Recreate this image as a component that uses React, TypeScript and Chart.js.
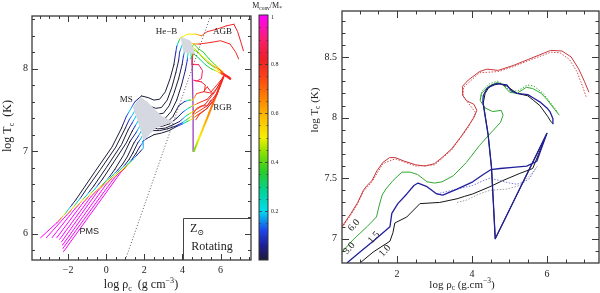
import React, { useEffect, useRef } from 'react';
import { Chart, registerables } from 'chart.js';
Chart.register(...registerables);

const SERIF = "'Liberation Serif', 'DejaVu Serif', serif";
const SANS = "'Liberation Sans', 'DejaVu Sans', sans-serif";

// ---------- tick values ----------
const LEFT_X_MAJOR = [-2, 0, 2, 4, 6];
const LEFT_X_MINOR = [-3.5, -3, -2.5, -1.5, -1, -0.5, 0.5, 1, 1.5, 2.5, 3, 3.5, 4.5, 5, 5.5, 6.5, 7, 7.5];
const LEFT_Y_MAJOR = [6, 7, 8];
const LEFT_Y_MINOR = [5.8, 6.2, 6.4, 6.6, 6.8, 7.2, 7.4, 7.6, 7.8, 8.2, 8.4, 8.6];
const RIGHT_X_MAJOR = [2, 4, 6];
const RIGHT_X_MINOR = [1, 1.5, 2.5, 3, 3.5, 4.5, 5, 5.5, 6.5, 7];
const RIGHT_Y_MAJOR = [7, 7.5, 8, 8.5];
const RIGHT_Y_MINOR = [6.9, 7.1, 7.2, 7.3, 7.4, 7.6, 7.7, 7.8, 7.9, 8.1, 8.2, 8.3, 8.4, 8.6, 8.7, 8.8];
const CBAR_LABELS = [0.2, 0.4, 0.6, 0.8, 1];

// ---------- left panel: tracks [log rho, log T, Mconv/M*] ----------
const track0 = [[-3.45,5.95,1],[-2.6,6.13,1],[-2.4,6.18,0.72],[-2.2,6.23,0.48],[-2.0,6.29,0.25],[-1.8,6.35,0.08],[-1.6,6.41,0],[-0.6,6.75,0],[0.3,7.05,0],[0.8,7.28,0],[1.05,7.42,0.1],[1.25,7.5,0.2],[1.5,7.6,0.08],[1.85,7.67,0],[2.2,7.65,0],[2.5,7.62,0],[2.8,7.63,0],[3.1,7.72,0],[3.35,7.88,0],[3.55,8.05,0],[3.65,8.2,0.08],[3.7,8.27,0.12],[3.8,8.33,0.3],[3.9,8.38,0.5],[4.3,8.42,0.5],[4.7,8.42,0.55],[5.0,8.4,0.7],[5.3,8.45,0.8],[5.8,8.48,0.8],[6.3,8.52,0.8],[6.7,8.54,0.82],[6.9,8.45,0.82],[7.1,8.3,0.82],[7.2,8.22,0.82]];
const track1 = [[-3.15,5.95,1],[-2.1,6.22,1],[-1.9,6.27,0.72],[-1.7,6.33,0.48],[-1.5,6.39,0.25],[-1.3,6.45,0.08],[-1.1,6.52,0],[-0.3,6.78,0],[0.5,7.05,0],[1.0,7.28,0],[1.2,7.38,0.1],[1.4,7.45,0.2],[1.65,7.55,0.08],[1.95,7.6,0],[2.25,7.55,0],[2.6,7.52,0],[2.9,7.53,0],[3.2,7.62,0],[3.45,7.78,0],[3.65,7.95,0],[3.8,8.1,0.03],[3.85,8.2,0.1],[4.0,8.3,0.25],[4.3,8.33,0.45],[4.6,8.3,0.6],[4.9,8.3,0.78],[5.5,8.32,0.8],[6.0,8.34,0.8],[6.5,8.3,0.8],[6.8,8.2,0.8],[6.95,8.12,0.8]];
const track2 = [[-2.85,5.95,1],[-1.65,6.3,1],[-1.45,6.35,0.72],[-1.25,6.41,0.48],[-1.05,6.46,0.25],[-0.85,6.52,0.08],[-0.65,6.58,0],[0.0,6.8,0],[0.8,7.08,0],[1.15,7.26,0],[1.35,7.34,0.1],[1.5,7.4,0.2],[1.75,7.5,0.08],[2.05,7.54,0],[2.35,7.48,0],[2.7,7.45,0],[3.0,7.46,0],[3.3,7.55,0],[3.55,7.7,0],[3.8,7.88,0],[3.98,8.05,0.03],[4.05,8.15,0.1],[4.15,8.25,0.25],[4.4,8.28,0.45],[4.55,8.2,0.75],[4.5,8.05,0.85],[4.85,8.05,0.88],[5.05,7.98,0.88],[5.0,7.88,0.88],[4.75,7.85,0.88],[4.6,7.86,0.88],[5.0,7.84,0.82],[5.2,7.8,0.8],[5.15,7.72,0.8],[5.4,7.71,0.8],[5.65,7.7,0.8]];
const track3 = [[-2.6,5.95,1],[-1.2,6.38,1],[-1.0,6.43,0.72],[-0.8,6.49,0.48],[-0.6,6.54,0.25],[-0.4,6.6,0.08],[-0.2,6.66,0],[0.4,6.87,0],[1.05,7.1,0],[1.35,7.24,0],[1.5,7.3,0.1],[1.6,7.34,0.2],[1.85,7.44,0.08],[2.15,7.48,0],[2.45,7.42,0],[2.8,7.38,0],[3.1,7.4,0],[3.4,7.48,0],[3.7,7.62,0],[3.95,7.8,0.02],[4.15,7.98,0.05],[4.25,8.1,0.1],[4.3,8.2,0.3],[4.5,8.24,0.4],[4.8,8.2,0.45],[5.2,8.12,0.5],[5.6,8.04,0.6],[5.9,8.0,0.7],[6.1,7.96,0.8]];
const track4 = [[-2.45,5.93,1],[-0.8,6.45,1],[-0.55,6.51,0.72],[-0.3,6.57,0.48],[-0.05,6.63,0.25],[0.2,6.7,0.08],[0.45,6.78,0],[0.9,6.95,0],[1.25,7.12,0],[1.55,7.22,0.1],[1.7,7.28,0.2],[1.95,7.38,0.08],[2.25,7.42,0],[2.55,7.37,0],[2.9,7.33,0],[3.2,7.35,0],[3.5,7.42,0],[3.8,7.55,0.02],[4.1,7.6,0.08],[4.35,7.62,0.3],[4.55,7.62,0.55],[4.75,7.7,0.75],[5.1,7.72,0.82],[5.3,7.78,0.82],[5.5,7.72,0.8],[5.8,7.8,0.8],[6.15,7.9,0.8]];
const track5 = [[-2.35,5.9,1],[-0.4,6.53,1],[-0.15,6.59,0.72],[0.1,6.65,0.48],[0.35,6.71,0.25],[0.6,6.77,0.08],[0.85,6.84,0],[1.1,6.93,0],[1.45,7.1,0],[1.65,7.17,0.1],[1.78,7.22,0.2],[2.0,7.32,0.08],[2.3,7.36,0],[2.6,7.32,0],[2.9,7.3,0],[3.3,7.33,0],[3.7,7.4,0.02],[4.0,7.47,0.08],[4.3,7.52,0.25],[4.55,7.55,0.5],[4.8,7.58,0.75],[5.3,7.63,0.82],[5.8,7.76,0.8],[6.15,7.9,0.8]];
const track6 = [[-2.3,5.86,1],[0.0,6.6,1],[0.25,6.66,0.72],[0.5,6.72,0.48],[0.75,6.78,0.25],[1.0,6.84,0.08],[1.2,6.9,0],[1.4,6.98,0],[1.65,7.1,0.05],[1.84,7.16,0.2],[2.05,7.26,0.08],[2.35,7.3,0],[2.7,7.27,0],[3.1,7.28,0],[3.5,7.32,0],[3.85,7.36,0.05],[4.15,7.42,0.2],[4.4,7.46,0.45],[4.7,7.5,0.7],[5.2,7.57,0.8],[5.7,7.72,0.8],[6.15,7.9,0.8]];
const track7 = [[-2.28,5.82,1],[0.4,6.67,1],[0.65,6.73,0.72],[0.9,6.79,0.48],[1.15,6.85,0.25],[1.35,6.9,0.08],[1.55,6.97,0],[1.75,7.05,0.05],[1.9,7.1,0.2],[2.1,7.2,0.08],[2.4,7.25,0],[2.8,7.25,0],[3.2,7.27,0],[3.6,7.3,0.02],[3.95,7.34,0.1],[4.2,7.38,0.3],[4.45,7.42,0.5],[4.75,7.47,0.72],[5.3,7.55,0.8],[5.8,7.7,0.8],[6.15,7.9,0.8]];
const track8 = [[-2.25,5.78,1],[0.75,6.74,1],[1.0,6.8,0.72],[1.2,6.85,0.48],[1.4,6.9,0.25],[1.6,6.95,0.08],[1.8,7.0,0.05],[1.95,7.04,0.2],[1.92,7.12,0.1],[2.1,7.15,0.05],[2.5,7.2,0],[2.9,7.22,0],[3.3,7.25,0],[3.7,7.3,0.05],[4.0,7.33,0.15],[4.25,7.36,0.35],[4.5,7.39,0.55],[4.8,7.44,0.75],[5.3,7.52,0.8],[5.8,7.68,0.8],[6.15,7.9,0.8]];
const flashDiag = [[6.15,7.9,0.8],[5.4,7.46,0.65],[4.6,7.0,0.42]];
const flashVert = [[4.6,7.0],[4.56,7.5],[4.5,8.15]];
const heb1 = [[4.5,8.15,0.3],[4.45,8.25,0.35],[4.6,8.3,0.4],[4.8,8.25,0.38],[5.1,8.2,0.35],[5.4,8.12,0.35],[5.7,8.05,0.4],[5.95,8.0,0.5],[6.15,7.96,0.6]];
const heb2 = [[4.35,8.2,0.45],[4.5,8.27,0.5],[4.75,8.22,0.45],[5.0,8.15,0.4],[5.35,8.07,0.38],[5.65,8.02,0.42],[5.9,7.98,0.55],[6.12,7.95,0.65]];
const heb3 = [[4.4,8.12,0.3],[4.6,8.18,0.35],[4.9,8.12,0.3],[5.2,8.05,0.3],[5.5,8.0,0.35],[5.8,7.97,0.5],[6.1,7.93,0.7]];
const agbEnd = [[6.05,7.95,0.8],[6.25,7.92,0.8],[6.4,7.9,0.8],[6.5,7.88,0.8]];
const rgbLoop1 = [[4.55,7.45,0.8],[4.75,7.52,0.8],[5.0,7.55,0.8],[5.3,7.55,0.8],[5.5,7.62,0.8]];
const rgbLoop2 = [[4.7,7.38,0.78],[4.9,7.45,0.8],[5.2,7.5,0.8],[5.6,7.6,0.8]];
const msBand = [[1.4,7.53],[1.65,7.62],[1.85,7.65],[2.15,7.6],[2.5,7.52],[2.9,7.43],[3.3,7.38],[3.6,7.36],[3.1,7.32],[2.6,7.28],[2.25,7.2],[2.0,7.13],[1.92,7.15],[1.8,7.25],[1.6,7.4]];
const hebBand = [[3.9,8.39],[4.42,8.34],[4.68,8.18],[4.05,8.2]];
const degeneracyLine = [[1.0,5.68],[5.47,8.64]];

// ---------- right panel: tracks [log rho, log T] ----------
const red6 = [[0.53,7.10],[0.75,7.2],[0.95,7.3],[1.1,7.4],[1.2,7.44],[1.33,7.48],[1.46,7.56],[1.62,7.63],[1.8,7.67],[1.95,7.67],[2.2,7.64],[2.5,7.61],[2.75,7.6],[3.0,7.62],[3.2,7.67],[3.45,7.74],[3.7,7.84],[3.9,7.93],[4.05,8.0],[4.13,8.06],[4.05,8.11],[3.85,8.14],[3.74,8.19],[3.75,8.26],[3.9,8.31],[4.2,8.38],[4.4,8.4],[4.7,8.39],[5.1,8.43],[5.5,8.48],[5.9,8.53],[6.1,8.555],[6.4,8.55],[6.65,8.5],[6.85,8.4],[7.0,8.3],[7.12,8.21]];
const red6Dot = [[0.53,7.09],[0.75,7.19],[0.95,7.29],[1.1,7.39],[1.33,7.47],[1.62,7.62],[1.95,7.66],[2.5,7.6],[3.0,7.61],[3.45,7.73],[3.9,7.92],[4.1,8.04],[3.9,8.12],[3.76,8.18],[3.77,8.25],[4.2,8.37],[4.7,8.38],[5.1,8.42],[5.5,8.47],[5.9,8.515],[6.1,8.54],[6.35,8.535],[6.6,8.48],[6.8,8.38],[6.95,8.26],[7.06,8.16]];
const green3 = [[0.53,6.89],[0.82,6.99],[1.2,7.10],[1.45,7.18],[1.52,7.27],[1.6,7.36],[1.7,7.41],[1.89,7.48],[2.13,7.55],[2.35,7.55],[2.55,7.53],[2.8,7.47],[3.0,7.46],[3.2,7.47],[3.5,7.52],[3.85,7.63],[4.2,7.77],[4.55,7.89],[4.76,7.96],[4.83,8.02],[4.78,8.06],[4.55,8.05],[4.35,8.08],[4.22,8.14],[4.25,8.2],[4.45,8.26],[4.68,8.29],[4.83,8.27],[5.0,8.21],[5.2,8.2],[5.45,8.25],[5.62,8.24],[5.85,8.2],[6.0,8.15],[6.2,8.07],[6.33,8.02]];
const green3Dot = [[4.22,8.15],[4.27,8.22],[4.47,8.28],[4.68,8.3],[4.85,8.27],[5.02,8.22],[5.22,8.22],[5.48,8.27],[5.65,8.26],[5.9,8.2],[6.1,8.12],[6.3,8.04]];
const blue15 = [[0.66,6.80],[1.01,6.89],[1.36,6.98],[1.81,7.10],[1.86,7.21],[2.02,7.29],[2.26,7.37],[2.45,7.44],[2.56,7.46],[2.8,7.43],[3.06,7.37],[3.22,7.36],[3.6,7.41],[4.02,7.47],[4.3,7.53],[4.5,7.57],[4.75,7.58],[5.09,7.59],[5.46,7.6],[5.73,7.64],[6.0,7.87],[4.62,7.0],[4.57,7.3],[4.52,7.59],[4.43,7.86],[4.29,8.13],[4.3,8.18],[4.4,8.24],[4.55,8.27],[4.66,8.28],[4.93,8.27],[5.05,8.22],[5.2,8.2],[5.49,8.19],[5.65,8.16],[5.81,8.13],[6.0,8.08],[6.08,8.05],[6.16,7.99],[6.16,7.95]];
const blue15Dot = [[3.06,7.37],[3.6,7.41],[4.02,7.44],[4.3,7.48],[4.48,7.5],[4.74,7.48],[5.0,7.46],[5.2,7.45],[5.4,7.47],[5.54,7.5],[5.7,7.58]];
const black10 = [[1.01,6.80],[1.36,6.89],[1.81,6.98],[1.89,7.05],[1.94,7.13],[2.26,7.18],[2.61,7.29],[3.14,7.30],[3.6,7.33],[3.8,7.35],[4.02,7.37],[4.48,7.43],[4.82,7.48],[5.28,7.54],[5.62,7.58],[6.0,7.87],[4.62,7.0],[4.57,7.3],[4.52,7.59],[4.43,7.86],[4.3,8.12],[4.35,8.2],[4.45,8.25],[4.6,8.27],[4.74,8.28],[4.93,8.26],[5.2,8.2],[5.49,8.18],[5.65,8.14],[5.81,8.1],[6.02,8.01],[6.1,7.97],[6.16,7.95]];
const gray10Dot = [[3.6,7.3],[3.86,7.32],[4.2,7.37],[4.48,7.4],[4.93,7.41],[5.28,7.44],[5.6,7.54],[5.75,7.6]];
const massLabels = ['6.0', '3.0', '1.5', '1.0'];
const massLabelAt = [[0.85,7.11],[0.72,6.92],[1.38,7.01],[1.68,6.9]];

// ---------- colour map ----------
const CMAP: [number, number[]][] = [
  [0.0,[28,28,56]],[0.06,[30,30,150]],[0.12,[30,70,235]],[0.2,[0,220,240]],[0.28,[0,212,150]],
  [0.36,[40,205,40]],[0.44,[140,225,0]],[0.5,[245,240,0]],[0.58,[255,190,0]],[0.66,[255,130,0]],
  [0.74,[255,70,20]],[0.82,[240,30,40]],[0.9,[250,30,110]],[1.0,[255,0,255]]
];
function cmap(m: number): string {
  const v = Math.max(0, Math.min(1, m));
  for (let i = 0; i < CMAP.length - 1; i++) {
    const [a, ca] = CMAP[i];
    const [b, cb] = CMAP[i + 1];
    if (v >= a && v <= b) {
      const t = (v - a) / (b - a);
      const c = ca.map((x, k) => Math.round(x + (cb[k] - x) * t));
      return `rgb(${c[0]},${c[1]},${c[2]})`;
    }
  }
  return 'rgb(255,0,255)';
}

function segColor(ctx: any) {
  const ds = ctx.chart.data.datasets[ctx.datasetIndex];
  const m = ds.mvals;
  const m0 = m[ctx.p0DataIndex];
  const m1 = m[ctx.p1DataIndex];
  if (Math.abs(m1 - m0) < 1e-6) return cmap(m0);
  const g = ctx.chart.ctx.createLinearGradient(ctx.p0.x, ctx.p0.y, ctx.p1.x, ctx.p1.y);
  g.addColorStop(0, cmap(m0));
  for (const [s] of CMAP) {
    const t = (s - m0) / (m1 - m0);
    if (t > 0 && t < 1) g.addColorStop(t, cmap(s));
  }
  g.addColorStop(1, cmap(m1));
  return g;
}

const xy = (pts: number[][]) => pts.map(p => ({ x: p[0], y: p[1] }));

function cmapDs(pts: number[][], width = 1) {
  return {
    data: xy(pts), mvals: pts.map(p => p[2]), showLine: true, pointRadius: 0,
    borderWidth: width, borderColor: '#000', segment: { borderColor: segColor },
    borderJoinStyle: 'round', borderCapStyle: 'round', fill: false,
  };
}
function plainDs(pts: number[][], color: string, width = 1, dash: number[] = []) {
  return {
    data: xy(pts), showLine: true, pointRadius: 0, borderWidth: width, borderColor: color,
    borderDash: dash, borderJoinStyle: 'round', fill: false,
  };
}
function bandDs(pts: number[][], color: string) {
  return {
    data: xy(pts), showLine: true, pointRadius: 0, borderWidth: 1, borderColor: 'rgba(0,0,0,0)',
    backgroundColor: color, fill: 'shape',
  };
}

// ---------- text helpers ----------
type Part = { t: string; s?: 'sub' | 'sup' };
function drawRich(ctx: CanvasRenderingContext2D, parts: Part[], x: number, y: number, size: number, rot = 0, family = SERIF, color = '#222') {
  ctx.save();
  ctx.translate(x, y);
  ctx.rotate(rot);
  ctx.fillStyle = color;
  ctx.textAlign = 'left';
  ctx.textBaseline = 'middle';
  const widths = parts.map(p => {
    ctx.font = `${p.s ? size * 0.68 : size}px ${family}`;
    return ctx.measureText(p.t).width;
  });
  const total = widths.reduce((a, b) => a + b, 0);
  let cx = -total / 2;
  parts.forEach((p, i) => {
    ctx.font = `${p.s ? size * 0.68 : size}px ${family}`;
    const dy = p.s === 'sub' ? size * 0.32 : p.s === 'sup' ? -size * 0.35 : 0;
    ctx.fillText(p.t, cx, dy);
    cx += widths[i];
  });
  ctx.restore();
}

const fmt = (v: number) => (v < 0 ? '\u2212' + Math.abs(v) : String(v));

function framePlugin(xMaj: number[], xMin: number[], yMaj: number[], yMin: number[], majLen: number, extra: (c: any) => void) {
  return {
    id: 'frameTicks',
    afterDatasetsDraw(chart: any) {
      const { ctx, chartArea: a, scales } = chart;
      const xs = scales.x, ys = scales.y;
      ctx.save();
      ctx.strokeStyle = '#3a3a3a';
      ctx.lineWidth = 1;
      ctx.beginPath();
      const tx = (vals: number[], len: number) => vals.forEach(v => {
        const p = Math.round(xs.getPixelForValue(v)) + 0.5;
        ctx.moveTo(p, a.bottom); ctx.lineTo(p, a.bottom - len);
        ctx.moveTo(p, a.top); ctx.lineTo(p, a.top + len);
      });
      const ty = (vals: number[], len: number) => vals.forEach(v => {
        const p = Math.round(ys.getPixelForValue(v)) + 0.5;
        ctx.moveTo(a.left, p); ctx.lineTo(a.left + len, p);
        ctx.moveTo(a.right, p); ctx.lineTo(a.right - len, p);
      });
      tx(xMaj, majLen); tx(xMin, majLen / 2);
      ty(yMaj, majLen); ty(yMin, majLen / 2);
      ctx.stroke();
      ctx.lineWidth = 1.3;
      ctx.strokeRect(a.left, a.top, a.right - a.left, a.bottom - a.top);
      ctx.restore();
      extra(chart);
    },
  };
}

function scalesFor(xMin: number, xMax: number, yMin: number, yMax: number, xMaj: number[], yMaj: number[], yWidth: number, xHeight: number, xPad: number, yPad: number) {
  const tickFont = { family: SERIF, size: 10 };
  return {
    x: {
      type: 'linear', min: xMin, max: xMax,
      grid: { display: false, drawTicks: false }, border: { display: false },
      ticks: { font: tickFont, color: '#222', padding: xPad, autoSkip: false, maxRotation: 0, callback: (v: number) => fmt(v) },
      afterBuildTicks: (s: any) => { s.ticks = xMaj.map(v => ({ value: v })); },
      afterFit: (s: any) => { s.height = xHeight; },
    },
    y: {
      type: 'linear', min: yMin, max: yMax,
      grid: { display: false, drawTicks: false }, border: { display: false },
      ticks: { font: tickFont, color: '#222', padding: yPad, autoSkip: false, callback: (v: number) => fmt(v) },
      afterBuildTicks: (s: any) => { s.ticks = yMaj.map(v => ({ value: v })); },
      afterFit: (s: any) => { s.width = yWidth; },
    },
  };
}

function leftExtras(chart: any) {
  const { ctx, scales } = chart;
  const X = (v: number) => scales.x.getPixelForValue(v);
  const Y = (v: number) => scales.y.getPixelForValue(v);
  // annotations
  drawRich(ctx, [{ t: 'He\u2212B' }], X(3.16), Y(8.45), 9);
  drawRich(ctx, [{ t: 'AGB' }], X(6.1), Y(8.45), 9);
  drawRich(ctx, [{ t: 'MS' }], X(1.05), Y(7.63), 9);
  drawRich(ctx, [{ t: 'RGB' }], X(6.1), Y(7.53), 9);
  drawRich(ctx, [{ t: 'PMS' }], X(-0.9), Y(6.03), 9, 0, SANS);
  // box
  ctx.save();
  ctx.strokeStyle = '#444';
  ctx.lineWidth = 1;
  ctx.beginPath();
  ctx.moveTo(183.5, 260); ctx.lineTo(183.5, 218.5); ctx.lineTo(251, 218.5);
  ctx.stroke();
  ctx.restore();
  drawRich(ctx, [{ t: 'Z' }, { t: '\u2299', s: 'sub' }], 197, 229, 12);
  drawRich(ctx, [{ t: 'Rotating' }], 212, 247, 12);
  // axis titles
  drawRich(ctx, [{ t: 'log T' }, { t: 'c', s: 'sub' }, { t: '  (K)' }], 8, 126, 12, -Math.PI / 2);
  drawRich(ctx, [{ t: 'log \u03c1' }, { t: 'c', s: 'sub' }, { t: '  (g cm' }, { t: '\u22123', s: 'sup' }, { t: ')' }], 141, 285, 12);
  // colour bar
  const cx = 259, cw = 9, ctop = 15, cbot = 260;
  ctx.save();
  const g = ctx.createLinearGradient(0, cbot, 0, ctop);
  CMAP.forEach(([s]) => g.addColorStop(s, cmap(s)));
  ctx.fillStyle = g;
  ctx.fillRect(cx, ctop, cw, cbot - ctop);
  ctx.strokeStyle = '#333';
  ctx.lineWidth = 0.8;
  ctx.beginPath();
  for (let k = 1; k < 20; k++) {
    const yy = Math.round(cbot - (cbot - ctop) * k / 20) + 0.5;
    const len = k % 4 === 0 ? 3 : 1.5;
    ctx.moveTo(cx, yy); ctx.lineTo(cx + len, yy);
    ctx.moveTo(cx + cw, yy); ctx.lineTo(cx + cw - len, yy);
  }
  ctx.stroke();
  ctx.lineWidth = 1;
  ctx.strokeRect(cx, ctop, cw, cbot - ctop);
  ctx.fillStyle = '#222';
  ctx.font = `6px ${SERIF}`;
  ctx.textAlign = 'left';
  ctx.textBaseline = 'middle';
  CBAR_LABELS.forEach(v => {
    const yy = cbot - (cbot - ctop) * v;
    ctx.fillText(v === 1 ? '1' : v.toFixed(1), cx + cw + 3, v === 1 ? yy + 2 : yy);
  });
  ctx.restore();
  drawRich(ctx, [{ t: 'M' }, { t: 'conv', s: 'sub' }, { t: '/M' }, { t: '*', s: 'sub' }], 267, 6, 8);
}

function rightExtras(chart: any) {
  const { ctx, scales } = chart;
  const X = (v: number) => scales.x.getPixelForValue(v);
  const Y = (v: number) => scales.y.getPixelForValue(v);
  massLabels.forEach((t, i) => {
    drawRich(ctx, [{ t }], X(massLabelAt[i][0]), Y(massLabelAt[i][1]), 10, -0.84);
  });
  drawRich(ctx, [{ t: 'log T' }, { t: 'c', s: 'sub' }, { t: ' (K)' }], 15, 110, 11, -Math.PI / 2);
  drawRich(ctx, [{ t: 'log \u03c1' }, { t: 'c', s: 'sub' }, { t: ' (g.cm' }, { t: '\u22123', s: 'sup' }, { t: ')' }], 162, 285, 11);
}

function leftConfig(): any {
  return {
    type: 'scatter',
    data: {
      datasets: [
        bandDs(msBand, '#d5d8e0'),
        bandDs(hebBand, '#d5d8e0'),
        plainDs(degeneracyLine, '#333', 0.8, [1, 2]),
        cmapDs(track0), cmapDs(track1), cmapDs(track2), cmapDs(track3), cmapDs(track4),
        cmapDs(track5), cmapDs(track6), cmapDs(track7), cmapDs(track8),
        cmapDs(rgbLoop1), cmapDs(rgbLoop2),
        cmapDs(heb1), cmapDs(heb2), cmapDs(heb3),
        cmapDs(flashDiag, 2),
        plainDs(flashVert, '#9a40c0', 1.3),
        cmapDs(agbEnd, 2.5),
      ],
    },
    options: {
      animation: false, responsive: false, devicePixelRatio: 1,
      layout: { padding: { left: 0, right: 49, top: 16, bottom: 0 } },
      plugins: { legend: { display: false }, tooltip: { enabled: false } },
      scales: scalesFor(-3.9, 7.6, 5.68, 8.64, LEFT_X_MAJOR, LEFT_Y_MAJOR, 32, 33, 4, 4),
    },
    plugins: [framePlugin(LEFT_X_MAJOR, LEFT_X_MINOR, LEFT_Y_MAJOR, LEFT_Y_MINOR, 6, leftExtras)],
  };
}

function rightConfig(): any {
  return {
    type: 'scatter',
    data: {
      datasets: [
        plainDs(red6Dot, '#d45050', 1, [1.5, 1.5]),
        plainDs(red6, '#c8383c', 1),
        plainDs(green3Dot, '#40b040', 1, [1.5, 1.5]),
        plainDs(green3, '#2ea82e', 1),
        plainDs(gray10Dot, '#a0a0a0', 1, [1.5, 1.5]),
        plainDs(black10, '#151515', 1),
        plainDs(blue15Dot, '#7a7ad8', 1, [1.5, 1.5]),
        plainDs(blue15, '#20209a', 1.3),
      ].reverse(),
    },
    options: {
      animation: false, responsive: false, devicePixelRatio: 1,
      layout: { padding: { left: 0, right: 1, top: 7, bottom: 0 } },
      plugins: { legend: { display: false }, tooltip: { enabled: false } },
      scales: scalesFor(0.53, 7.39, 6.8, 8.88, RIGHT_X_MAJOR, RIGHT_Y_MAJOR, 42, 30, 5, 5),
    },
    plugins: [framePlugin(RIGHT_X_MAJOR, RIGHT_X_MINOR, RIGHT_Y_MAJOR, RIGHT_Y_MINOR, 7, rightExtras)],
  };
}

export default function App() {
  const leftRef = useRef<HTMLCanvasElement>(null);
  const rightRef = useRef<HTMLCanvasElement>(null);
  useEffect(() => {
    const c1 = new Chart(leftRef.current as HTMLCanvasElement, leftConfig());
    const c2 = new Chart(rightRef.current as HTMLCanvasElement, rightConfig());
    return () => { c1.destroy(); c2.destroy(); };
  }, []);
  return (
    <div style={{ position: 'fixed', left: 0, top: 0, width: 600, height: 293, background: '#fff' }}>
      <canvas ref={leftRef} width={300} height={293} style={{ position: 'absolute', left: 0, top: 0, width: 300, height: 293 }} />
      <canvas ref={rightRef} width={300} height={293} style={{ position: 'absolute', left: 300, top: 0, width: 300, height: 293 }} />
    </div>
  );
}
